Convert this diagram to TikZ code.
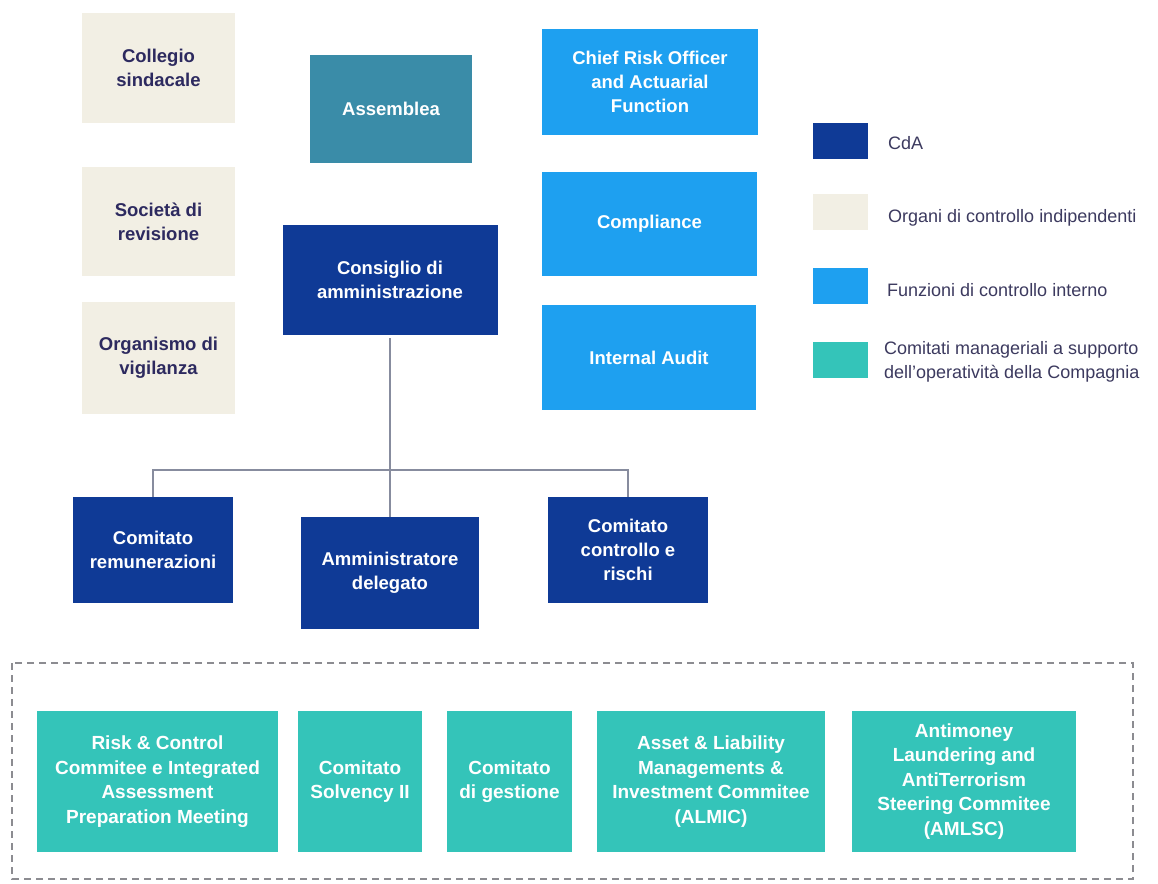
\documentclass[tikz,border=0pt]{standalone}
\usepackage{fontspec}
\setmainfont{Liberation Sans}
\definecolor{cdablue}{RGB}{15,58,150}
\definecolor{beige}{RGB}{242,239,228}
\definecolor{lightblue}{RGB}{30,160,240}
\definecolor{tealc}{RGB}{52,196,185}
\definecolor{assemc}{RGB}{58,140,168}
\definecolor{navytext}{RGB}{45,42,95}
\definecolor{legtext}{RGB}{60,58,95}
\definecolor{linec}{RGB}{135,140,158}
\definecolor{dashc}{RGB}{140,140,145}
\begin{document}
\begin{tikzpicture}[x=1pt,y=-1pt,
  boxbase/.style={rectangle, inner sep=0pt, align=center, draw=none,
    font=\bfseries\fontsize{18.5}{24}\selectfont},
  cdabox/.style={boxbase, fill=cdablue, text=white},
  indbox/.style={boxbase, fill=beige, text=navytext},
  intbox/.style={boxbase, fill=lightblue, text=white},
  assbox/.style={boxbase, fill=assemc, text=white},
  teabox/.style={boxbase, fill=tealc, text=white, font=\bfseries\fontsize{19}{24.5}\selectfont},
  legsq/.style={rectangle, inner sep=0pt, minimum width=55, minimum height=36},
  legtxt/.style={anchor=west, inner sep=0pt, align=left, text=legtext, font=\fontsize{18}{23.5}\selectfont},
  conn/.style={draw=linec, line width=1.8pt},
  dashbox/.style={draw=dashc, line width=1.2pt, dash pattern=on 7pt off 5pt}
]
\useasboundingbox[fill=white] (0,0) rectangle (1158,883);

% independent control bodies
\node[indbox, minimum width=153, minimum height=110] (coll) at (158.5,68) {Collegio\\sindacale};
\node[indbox, minimum width=153, minimum height=109] (soc) at (158.5,221.5) {Società di\\revisione};
\node[indbox, minimum width=153, minimum height=112] (org) at (158.5,358) {Organismo di\\vigilanza};

% assemblea and board
\node[assbox, minimum width=162, minimum height=108] (ass) at (391,109) {Assemblea};
\node[cdabox, minimum width=215, minimum height=110] (cda) at (390,280) {Consiglio di\\amministrazione};

% internal control functions
\node[intbox, minimum width=216, minimum height=106] (cro) at (650,82) {Chief Risk Officer\\and Actuarial\\Function};
\node[intbox, minimum width=215, minimum height=104] (comp) at (649.5,224) {Compliance};
\node[intbox, minimum width=214, minimum height=105] (audit) at (649,357.5) {Internal Audit};

% committees under board
\node[cdabox, minimum width=160, minimum height=106] (rem) at (153,550) {Comitato\\remunerazioni};
\node[cdabox, minimum width=178, minimum height=112] (ad) at (390,573) {Amministratore\\delegato};
\node[cdabox, minimum width=160, minimum height=106] (ccr) at (628,550) {Comitato\\controllo e\\rischi};

% connectors
\coordinate (hl) at (153,470);
\coordinate (hr) at (628,470);
\draw[conn] ([yshift=-3]cda.south) -- (ad.north);
\draw[conn] (rem.north) -- (hl) -- (hr) -- (ccr.north);

% legend
\node[legsq, fill=cdablue] (lg1) at (840,141) {};
\node[legtxt] (lt1) at (888,143) {CdA};
\node[legsq, fill=beige] (lg2) at (840,212) {};
\node[legtxt] (lt2) at (888,218) {Organi di controllo indipendenti};
\node[legsq, fill=lightblue] (lg3) at (840,286) {};
\node[legtxt] (lt3) at (887,290) {Funzioni di controllo interno};
\node[legsq, fill=tealc] (lg4) at (840,360) {};
\node[legtxt] (lt4) at (884,362) {Comitati manageriali a supporto\\dell'operatività della Compagnia};

% managerial committees
\draw[dashbox] (12,663) rectangle (1133,879);
\node[teabox, minimum width=241, minimum height=141] (rcc) at (157.5,781.5) {Risk \& Control\\Commitee e Integrated\\Assessment\\Preparation Meeting};
\node[teabox, minimum width=124, minimum height=141] (sol) at (360,781.5) {Comitato\\Solvency II};
\node[teabox, minimum width=125, minimum height=141] (ges) at (509.5,781.5) {Comitato\\di gestione};
\node[teabox, minimum width=228, minimum height=141] (alm) at (711,781.5) {Asset \& Liability\\Managements \&\\Investment Commitee\\(ALMIC)};
\node[teabox, minimum width=224, minimum height=141] (aml) at (964,781.5) {Antimoney\\Laundering and\\AntiTerrorism\\Steering Commitee\\(AMLSC)};
\end{tikzpicture}
\end{document}
